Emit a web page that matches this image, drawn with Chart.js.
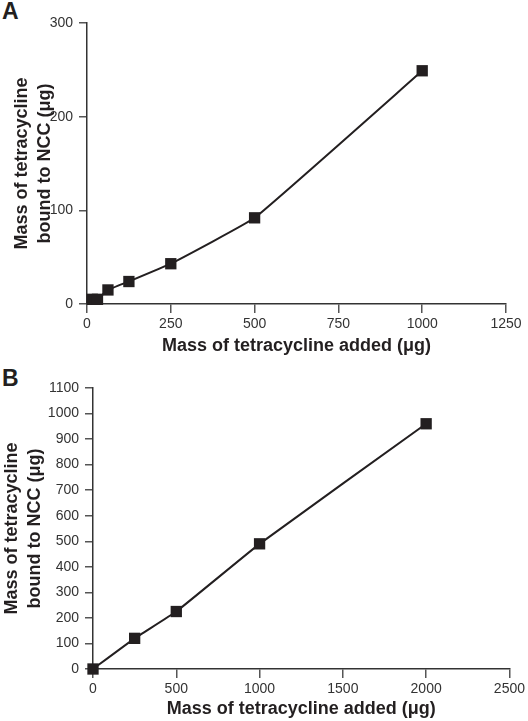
<!DOCTYPE html>
<html>
<head>
<meta charset="UTF-8">
<title>Tetracycline binding to NCC</title>
<script src="https://cdn.jsdelivr.net/npm/chart.js@4"></script>
<style>
  html, body { margin: 0; padding: 0; background: #fff; }
  body { width: 528px; height: 721px; position: relative; overflow: hidden;
         font-family: "Liberation Sans", Arial, sans-serif; }
  .panel { position: absolute; left: 0; width: 528px; }
  .letter { position: absolute; left: 2px; font-size: 23px; line-height: 23px;
            font-weight: bold; color: #231f20; }
</style>
</head>
<body>
<div class="letter" style="top:0px">A</div>
<div class="letter" style="top:367px">B</div>
<div class="panel" style="top:0; height:360px"><canvas id="chartA" width="528" height="360"></canvas></div>
<div class="panel" style="top:360px; height:361px"><canvas id="chartB" width="528" height="361"></canvas></div>
<script>
// panel A
const addedA = [15.625, 31.25, 62.5, 125, 250, 500, 1000];
const boundA = [5, 5, 15, 24, 43, 92, 249];
// panel B
const addedB = [0, 250, 500, 1000, 2000];
const boundB = [0, 120, 225, 490, 960];

const xTitle = 'Mass of tetracycline added (μg)';
const yTitle = ['Mass of tetracycline', 'bound to NCC (μg)'];
const ink = '#231f20';
const fontFamily = '"Liberation Sans", Arial, sans-serif';

function makeChart(id, xs, ys, opts) {
  const pts = xs.map((x, i) => ({ x, y: ys[i] }));
  return new Chart(document.getElementById(id), {
    type: 'line',
    data: {
      datasets: [{
        data: pts,
        borderColor: ink,
        borderWidth: 2,
        backgroundColor: ink,
        pointStyle: 'rect',
        pointRadius: 8,
        pointBorderWidth: 0,
        tension: 0.1,
        clip: false,
      }],
    },
    options: {
      responsive: false,
      animation: false,
      layout: { padding: { top: opts.top, right: opts.right, left: 0, bottom: 0 } },
      plugins: { legend: { display: false }, tooltip: { enabled: false } },
      scales: {
        x: {
          type: 'linear',
          min: 0,
          max: opts.xMax,
          afterFit: (s) => { s.height = opts.xAxisH; },
          border: { display: true, color: '#333', width: 1.5 },
          grid: { display: true, drawOnChartArea: false, drawTicks: true, tickLength: 9, color: '#555', lineWidth: 1.5 },
          ticks: {
            stepSize: opts.xStep, padding: 3, color: '#333',
            font: { family: fontFamily, size: 14 },
            callback: (v) => String(v),
          },
          title: {
            display: true,
            text: xTitle,
            color: ink,
            padding: { top: 0, bottom: opts.xTitlePad },
            font: { family: fontFamily, size: 18, weight: 'bold', lineHeight: 1.3 },
          },
        },
        y: {
          type: 'linear',
          min: 0,
          max: opts.yMax,
          afterFit: (s) => { s.width = opts.yAxisW; },
          border: { display: true, color: '#333', width: 1.5 },
          grid: { display: true, drawOnChartArea: false, drawTicks: true, tickLength: 8, color: '#555', lineWidth: 1.5 },
          ticks: {
            stepSize: opts.yStep, padding: 6, color: '#333',
            font: { family: fontFamily, size: 14 },
            callback: (v) => String(v),
          },
          title: {
            display: true,
            text: yTitle,
            color: ink,
            padding: { top: opts.yTitlePad, bottom: 0 },
            font: { family: fontFamily, size: 18, weight: 'bold', lineHeight: 1.3 },
          },
        },
      },
    },
  });
}

makeChart('chartA', addedA, boundA, {
  xMax: 1250, xStep: 250, yMax: 300, yStep: 100,
  top: 23, right: 22, xAxisH: 56, yAxisW: 87, xTitlePad: 2, yTitlePad: 10,
});
makeChart('chartB', addedB, boundB, {
  xMax: 2500, xStep: 500, yMax: 1100, yStep: 100,
  top: 28, right: 15, xAxisH: 52, yAxisW: 93, xTitlePad: 0, yTitlePad: 0,
});
</script>
</body>
</html>
